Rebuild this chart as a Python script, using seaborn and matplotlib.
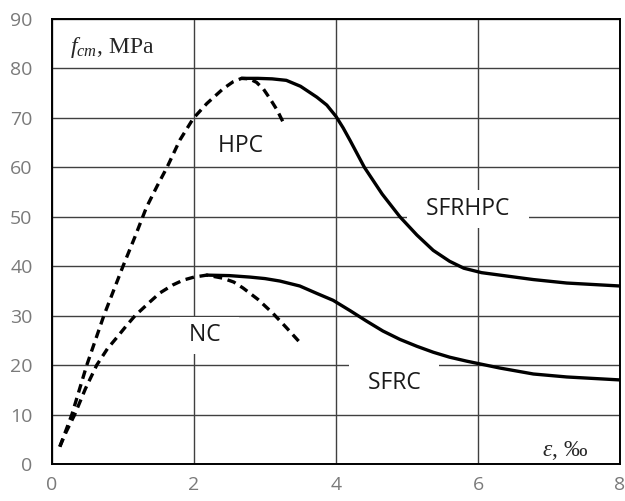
import matplotlib
matplotlib.use("Agg")
import matplotlib.pyplot as plt
import seaborn as sns
import pandas as pd

# Curvas tensión-deformación
hpc_x = [0.11, 0.28, 0.49, 0.73, 1.0, 1.17, 1.33, 1.48, 1.62, 1.8, 1.99, 2.18, 2.41,
         2.55, 2.67, 2.78, 2.88, 2.98, 3.07, 3.17, 3.26]
hpc_y = [3.5, 10.0, 20.0, 30.0, 40.0, 46.0, 51.9, 56.2, 60.0, 65.5, 69.9, 72.9, 75.9,
         77.3, 78.0, 77.9, 77.2, 75.8, 73.9, 71.6, 69.0]

sfrhpc_x = [2.67, 2.9, 3.1, 3.3, 3.5, 3.73, 3.87, 4.0, 4.1, 4.2, 4.3, 4.4, 4.65, 4.9,
            5.14, 5.37, 5.6, 5.8, 6.05, 6.31, 6.78, 7.25, 8.0]
sfrhpc_y = [78.0, 78.0, 77.9, 77.6, 76.4, 74.2, 72.6, 70.3, 68.0, 65.4, 62.7, 60.0, 54.6, 50.0,
            46.3, 43.2, 41.0, 39.6, 38.7, 38.2, 37.3, 36.6, 36.0]

nc_x = [0.11, 0.2, 0.32, 0.47, 0.63, 0.78, 0.92, 1.05, 1.17, 1.38, 1.52, 1.7, 1.85,
        2.0, 2.18, 2.4, 2.56, 2.69, 2.9, 3.11, 3.3, 3.49]
nc_y = [3.5, 6.5, 10.0, 15.2, 20.0, 23.3, 25.7, 28.0, 30.0, 32.8, 34.6, 36.2, 37.2,
        37.8, 38.2, 37.6, 36.8, 35.6, 33.3, 30.5, 27.6, 24.6]

sfrc_x = [2.18, 2.5, 2.79, 3.0, 3.21, 3.49, 3.73, 3.96, 4.2, 4.43, 4.66, 4.9, 5.14,
          5.37, 5.6, 5.84, 6.31, 6.78, 7.25, 8.0]
sfrc_y = [38.2, 38.1, 37.8, 37.5, 37.0, 36.0, 34.5, 33.1, 31.0, 28.9, 26.9, 25.2, 23.8,
          22.6, 21.6, 20.8, 19.4, 18.2, 17.6, 17.0]

labels = ["HPC", "SFRHPC", "NC", "SFRC"]
label_x = [2.65, 5.86, 2.15, 4.82]
label_y = [64.4, 51.5, 26.0, 16.4]

x_ticks = [0, 2, 4, 6, 8]
y_ticks = [0, 10, 20, 30, 40, 50, 60, 70, 80, 90]

sns.set_style("white")
plt.rcParams["font.family"] = ["Open Sans", "DejaVu Sans"]
plt.rcParams["mathtext.fontset"] = "custom"
plt.rcParams["mathtext.rm"] = "Liberation Serif"
plt.rcParams["mathtext.it"] = "Liberation Serif:italic"

fig = plt.figure(figsize=(6.25, 5.01), dpi=100)
ax = fig.add_axes([0.0832, 0.0739, 0.9088, 0.8881])

curvas = [
    (hpc_x, hpc_y, (0, (2.6, 1.7))),
    (nc_x, nc_y, (0, (2.6, 1.7))),
    (sfrhpc_x, sfrhpc_y, "-"),
    (sfrc_x, sfrc_y, "-"),
]
for xs, ys, ls in curvas:
    df = pd.DataFrame({"eps": xs, "f": ys})
    sns.lineplot(data=df, x="eps", y="f", ax=ax, color="black", lw=2.4,
                 linestyle=ls, estimator=None, sort=False, zorder=3,
                 solid_joinstyle="round", dash_joinstyle="round")

ax.set_xlim(0, 8)
ax.set_ylim(0, 90)
ax.set_xticks(x_ticks)
ax.set_yticks(y_ticks)
ax.grid(True, color="#404040", lw=1.0)
ax.set_axisbelow(True)
ax.tick_params(axis="both", length=0, labelsize=14, colors="#7a7a7a")
ax.tick_params(axis="y", pad=14)
ax.tick_params(axis="x", pad=9)
ax.set_xlabel("")
ax.set_ylabel("")
for s in ax.spines.values():
    s.set_color("black")
    s.set_linewidth(1.4)

for txt, lx, ly in zip(labels, label_x, label_y):
    ax.text(lx, ly, "  " + txt + "  ", ha="center", va="center", fontsize=16.5,
            color="#1a1a1a", zorder=2,
            bbox=dict(facecolor="white", edgecolor="none", boxstyle="square,pad=0.3"))

ax.text(0.032, 0.937, r"$f_{cm}$, MPa", transform=ax.transAxes, fontsize=17,
        family="Liberation Serif", ha="left", va="center", zorder=4)
ax.text(0.944, 0.031, r"$\varepsilon$, ‰", transform=ax.transAxes, fontsize=17,
        family="Liberation Serif", ha="right", va="center", zorder=4)

fig.savefig("out.png", dpi=100)
